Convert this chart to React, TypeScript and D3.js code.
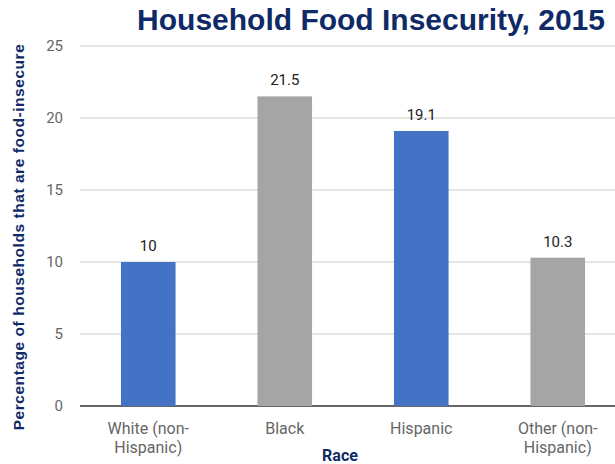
import React from "react";
import * as d3 from "d3";

const categories: string[][] = [
  ["White (non-", "Hispanic)"],
  ["Black"],
  ["Hispanic"],
  ["Other (non-", "Hispanic)"],
];
const values: number[] = [10, 21.5, 19.1, 10.3];
const barColors: string[] = ["#4472c4", "#a5a5a5", "#4472c4", "#a5a5a5"];
const yTicks: number[] = [0, 5, 10, 15, 20, 25];

const title = "Household Food Insecurity, 2015";
const xTitle = "Race";
const yTitle = "Percentage of households that are food-insecure";

const W = 615;
const H = 464;
const plot = { left: 80, right: 626, top: 46, bottom: 406 };
const navy = "#0f2a66";

export default function App() {
  const x = d3
    .scaleBand<number>()
    .domain(d3.range(values.length))
    .range([plot.left, plot.right])
    .paddingInner(0.6)
    .paddingOuter(0.3);
  const y = d3.scaleLinear().domain([0, 25]).range([plot.bottom, plot.top]);

  return (
    <svg
      width={W}
      height={H}
      style={{ position: "absolute", left: 0, top: 0, background: "#fff" }}
      fontFamily="Roboto, 'Liberation Sans', Arial, sans-serif"
    >
      <rect width={W} height={H} fill="#fff" />
      {yTicks.map((t) => (
        <g key={t}>
          <line
            x1={plot.left}
            x2={W}
            y1={y(t)}
            y2={y(t)}
            stroke={t === 0 ? "#333" : "#cccccc"}
            strokeWidth={t === 0 ? 1.5 : 1}
          />
          <text
            x={63}
            y={y(t)}
            dy="0.35em"
            textAnchor="end"
            fontSize={15}
            fill="#666"
          >
            {t}
          </text>
        </g>
      ))}
      {values.map((v, i) => (
        <g key={i}>
          <rect
            x={x(i)}
            y={y(v)}
            width={x.bandwidth()}
            height={y(0) - y(v)}
            fill={barColors[i]}
          />
          <text
            x={(x(i) as number) + x.bandwidth() / 2}
            y={y(v) - 11}
            textAnchor="middle"
            fontSize={15}
            fill="#222"
          >
            {v}
          </text>
          {categories[i].map((line, j) => (
            <text
              key={j}
              x={(x(i) as number) + x.bandwidth() / 2}
              y={434 + j * 18.5}
              textAnchor="middle"
              fontSize={16}
              fill="#666"
            >
              {line}
            </text>
          ))}
        </g>
      ))}
      <text
        x={340}
        y={461}
        textAnchor="middle"
        fontSize={16}
        fontWeight="bold"
        fill={navy}
      >
        {xTitle}
      </text>
      <text
        transform={`translate(24,237) rotate(-90)`}
        textAnchor="middle"
        fontFamily="'Liberation Sans', Arial, sans-serif"
        fontSize={15.5}
        fontWeight="bold"
        fill={navy}
        letterSpacing={0.55}
      >
        {yTitle}
      </text>
      <text
        x={371}
        y={30}
        textAnchor="middle"
        fontFamily="'Liberation Sans', Arial, sans-serif"
        fontSize={30}
        fontWeight="bold"
        fill={navy}
      >
        {title}
      </text>
    </svg>
  );
}
